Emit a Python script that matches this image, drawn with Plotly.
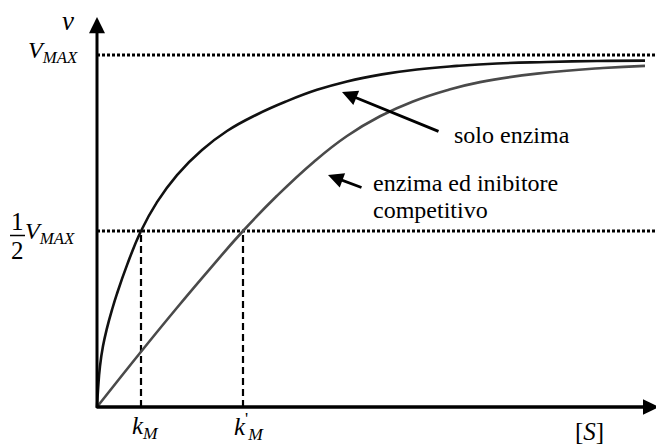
import plotly.graph_objects as go

# Reaction velocity v (fraction of V_MAX) against substrate concentration [S] (arbitrary units)
S_solo = [0, 0.02, 0.06, 0.12, 0.2, 0.3, 0.4, 0.6, 0.88, 1.2, 1.6, 2.1, 2.6, 3.2,
          3.8, 4.4, 5.0, 5.7, 6.4, 7.2, 8.0, 9.0, 10.0, 10.96]
v_solo = [0, 0.048, 0.116, 0.173, 0.224, 0.276, 0.322, 0.403, 0.5, 0.582, 0.659,
          0.730, 0.784, 0.831, 0.869, 0.901, 0.925, 0.945, 0.959, 0.969, 0.976,
          0.980, 0.983, 0.984]

S_inib = [0, 0.88, 1.6, 2.28, 2.92, 3.6, 4.34, 5.0, 5.66, 6.32, 7.0, 7.66, 8.8,
          10.12, 10.96]
v_inib = [0, 0.157, 0.282, 0.396, 0.5, 0.600, 0.697, 0.770, 0.826, 0.868, 0.900,
          0.923, 0.947, 0.963, 0.969]

V_MAX = 1.0
K_M = 0.88
K_M_PRIME = 2.92

S_END = 11.18      # right edge of the [S] axis
V_TOP = 1.108      # tip of the v axis

W, H = 656, 445
X_RANGE = [-1.94, 11.18]
Y_RANGE = [-0.10795, 1.15625]

SERIF = "Liberation Serif"


def paper(px, py):
    """Pixel position in the page -> paper coordinates (margins are zero)."""
    return px / W, 1 - py / H


fig = go.Figure()

# Reference levels V_MAX and V_MAX/2
for lvl in (V_MAX, V_MAX / 2):
    fig.add_trace(go.Scatter(x=[0, S_END], y=[lvl, lvl], mode="lines",
                             line=dict(color="black", width=3.2, dash="3px,2px"),
                             hoverinfo="skip", showlegend=False))

# Dashed drops from the half-maximum to k_M and k'_M
for km in (K_M, K_M_PRIME):
    fig.add_trace(go.Scatter(x=[km, km], y=[0, V_MAX / 2], mode="lines",
                             line=dict(color="black", width=2.2, dash="7px,4px"),
                             hoverinfo="skip", showlegend=False))

# Curves
fig.add_trace(go.Scatter(x=S_inib, y=v_inib, mode="lines",
                         line=dict(color="#4a4a4a", width=2.6, shape="spline", smoothing=1.3),
                         showlegend=False))
fig.add_trace(go.Scatter(x=S_solo, y=v_solo, mode="lines",
                         line=dict(color="#111", width=2.6, shape="spline", smoothing=1.3),
                         showlegend=False))

# Axes with arrowheads
fig.add_trace(go.Scatter(x=[0, 0], y=[-0.003, V_TOP - 0.03], mode="lines",
                         line=dict(color="black", width=3), hoverinfo="skip", showlegend=False))
fig.add_trace(go.Scatter(x=[-0.01, S_END - 0.2], y=[0, 0], mode="lines",
                         line=dict(color="black", width=3.5), hoverinfo="skip", showlegend=False))
fig.add_shape(type="path", xref="x", yref="y",
              path=f"M 0 {V_TOP} L -0.16 {V_TOP - 0.046} L 0.16 {V_TOP - 0.046} Z",
              fillcolor="black", line=dict(width=0))
fig.add_shape(type="path", xref="x", yref="y",
              path=f"M {S_END + 0.06} 0 L {S_END - 0.26} 0.022 L {S_END - 0.26} -0.022 Z",
              fillcolor="black", line=dict(width=0))

annotations = []


def label(text, px, py, size=24, xanchor="center", yanchor="middle", font=SERIF):
    x, y = paper(px, py)
    annotations.append(dict(text=text, x=x, y=y, xref="paper", yref="paper",
                            xanchor=xanchor, yanchor=yanchor, showarrow=False,
                            font=dict(family=font, size=size, color="black")))


# Axis titles and symbolic tick labels
label("<i>v</i>", 68, 21, size=27)
label("<i>V</i><sub><i>MAX</i></sub>", 80, 52, size=24, xanchor="right")
label("1", 17, 221, size=25)
label("2", 17, 250, size=25)
label("<i>V</i><sub><i>MAX</i></sub>", 77, 233, size=24, xanchor="right")
label("<i>k</i><sub><i>M</i></sub>", 145, 427, size=25)
label("<i>k</i><sup>'</sup><sub><i>M</i></sub>", 249, 426, size=25)
label("[<i>S</i>]", 589, 431, size=25)

fig.add_shape(type="line", xref="paper", yref="paper",
              x0=paper(10, 0)[0], x1=paper(25, 0)[0],
              y0=paper(0, 235.5)[1], y1=paper(0, 235.5)[1],
              line=dict(color="black", width=1.5))

# Curve labels with pointing arrows
label("solo enzima", 452, 135, size=24, xanchor="left")
label("enzima ed inibitore", 371, 183, size=24, xanchor="left")
label("competitivo", 371, 210, size=24, xanchor="left")

annotations.append(dict(x=4.9, y=(407 - 92) / 352, xref="x", yref="y", text="",
                        showarrow=True, arrowhead=2, arrowsize=1.1, arrowwidth=2.8,
                        arrowcolor="black", ax=98, ay=40))
annotations.append(dict(x=4.62, y=(407 - 175) / 352, xref="x", yref="y", text="",
                        showarrow=True, arrowhead=2, arrowsize=1.1, arrowwidth=2.8,
                        arrowcolor="black", ax=35, ay=13))

fig.update_layout(
    width=W, height=H, margin=dict(l=0, r=0, t=0, b=0),
    paper_bgcolor="white", plot_bgcolor="white",
    font=dict(family=SERIF),
    xaxis=dict(range=X_RANGE, visible=False, fixedrange=True),
    yaxis=dict(range=Y_RANGE, visible=False, fixedrange=True),
    annotations=annotations,
)

fig.write_html("out.html")
